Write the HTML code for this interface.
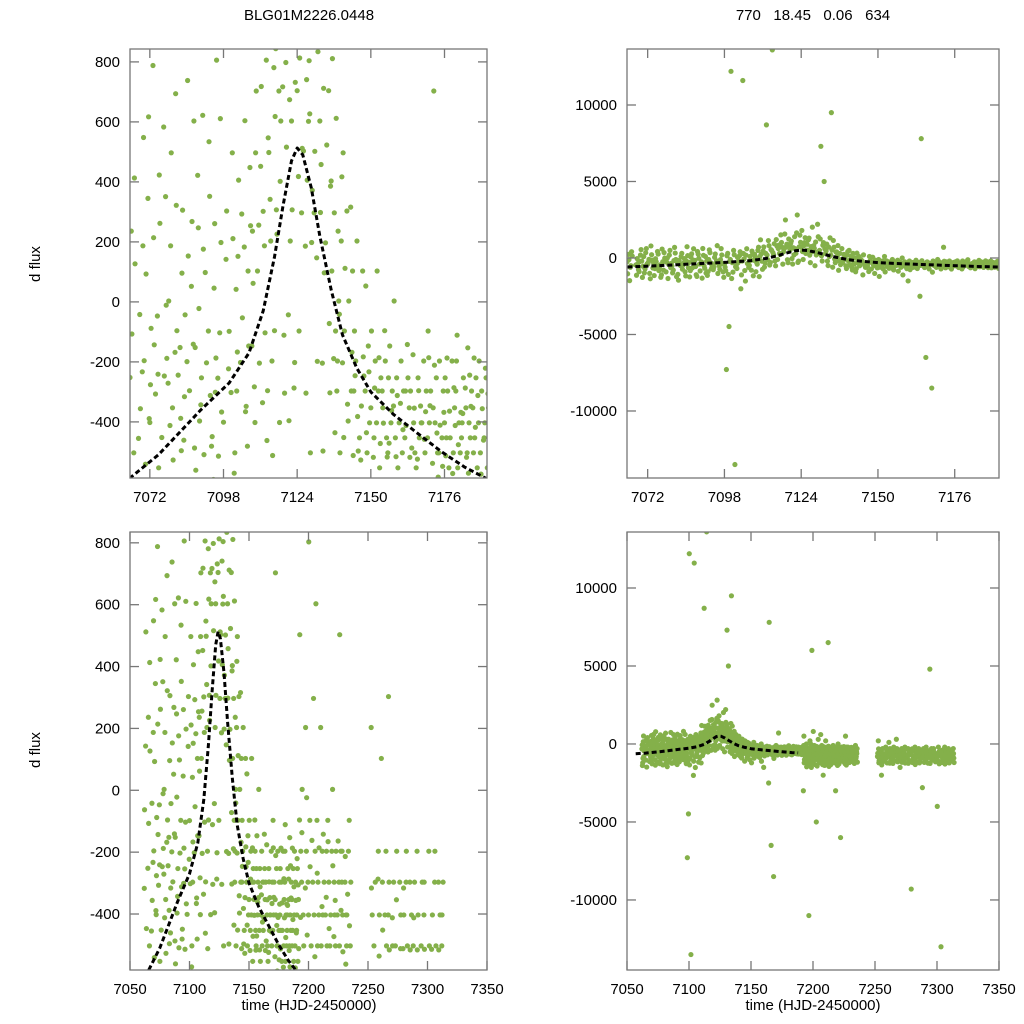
<!DOCTYPE html>
<html><head><meta charset="utf-8"><style>
html,body{margin:0;background:#fff;width:1024px;height:1024px;overflow:hidden}
svg{display:block;font-family:"Liberation Sans",sans-serif}
</style></head><body>
<svg id="chart" width="1024" height="1024"></svg>
<script>
const modelTimes=[7057,7065,7075,7083,7090,7100,7107,7112,7116,7119,7122,7124,7126,7129,7132,7136,7140,7145,7150,7158,7165,7175,7183,7188,7191];
const modelFlux=[-620,-587,-510,-430,-360,-270,-170,-30,150,320,470,513,490,380,220,40,-110,-220,-300,-375,-427,-500,-550,-575,-590];
const obsTimes=[7062,7065,7068,7070,7072,7074,7076,7078,7080,7082,7084,7086,7088,7090,7092,7094,7096,7098,7100,7102,7104,7106,7108,7110,7112,7114,7116,7118,7120,7122,7124,7126,7128,7130,7132,7134,7136,7138,7140,7142,7144,7146,7148,7150,7152,7154,7156,7158,7160,7162,7164,7166,7168,7170,7172,7174,7176,7178,7180,7182,7184,7186,7188,7190,7192,7194,7196,7198,7200,7202,7204,7206,7208,7210,7212,7214,7216,7218,7220,7222,7224,7226,7228,7230,7232,7234,7252,7255,7258,7261,7264,7267,7270,7273,7276,7279,7282,7285,7288,7291,7294,7297,7300,7303,7306,7309,7312];
const obsFlux=[
[-317,-812,143,-1213,-63,-447,512,-921,-1384],
[-252,413,-608,-107,-1032,127,-503,-1480,236],
[-455,187,-893,-356,-1128,548,-233,-761,-42],
[-196,617,-712,93,-1267,-389,345,-974,-541],
[-402,-143,788,-1006,-276,-658,214,-1355,-88],
[-307,262,-553,-47,-1148,-816,423,-241,-693],
[-598,351,-247,-1103,-452,-11,-789,583,-1260],
[-188,497,-412,3,-908,-633,187,-1339,-271],
[-353,-96,694,-793,-527,-1221,322,-168,-972],
[-244,306,-496,-152,-1067,-731,96,-388,-1452],
[-461,153,-199,-902,-316,-628,738,-1174,-43],
[-296,603,-652,52,-1236,-487,-141,268,-827],
[-152,-397,247,-1204,-561,-843,-22,422,-1092],
[-343,98,-509,622,-253,-987,-671,176,-1318],
[-203,-706,352,-97,-1140,-481,-312,534,-897],
[-449,806,-301,46,-766,-1012,-187,261,-592],
[-254,-903,198,-103,-514,-1261,-367,611,-738],
[-401,-4480,303,-7290,-603,-223,-1074,142,-832],
[-98,-13500,497,-302,12200,-571,211,-923,-1342],
[-503,-2012,152,-297,-688,-1105,406,-167,42],
[-202,604,-1507,-53,11600,-366,183,-822,293],
[-348,254,-797,103,-612,-1163,448,-147,-481],
[-147,703,-402,-896,236,-1216,497,-283,62],
[103,-597,452,-204,1187,-336,718,-741,256],
[302,-296,806,-103,8700,547,-462,1138,187],
[498,1204,-197,203,13600,781,-512,934,342],
[-96,703,1512,307,618,-402,1013,226,844],
[402,-304,897,2488,603,1241,-111,717,1568],
[798,203,-396,1107,516,1392,674,-43,957],
[603,1493,-202,2812,307,1026,732,-287,1641],
[704,297,1006,-97,1802,512,1328,813,418],
[897,406,-304,1303,503,2016,741,186,1187],
[602,2207,198,-503,804,1389,372,1046,627],
[297,1003,-198,7300,502,5000,834,147,1246],
[603,97,-497,906,298,1317,712,-204,458],
[197,-303,704,-603,9500,386,-72,1147,523],
[403,-97,297,-803,103,612,-436,-189,811],
[-297,203,-503,3,-197,417,-688,-41,236],
[-203,303,-603,-97,497,-341,-788,112,-452],
[-397,103,-297,-703,3,-512,-168,316,-903],
[-297,-497,203,-197,-97,-611,-382,-1103,-246],
[-453,-247,103,-347,-603,-714,-183,-882,-527],
[-297,-403,-147,-503,53,-651,-233,-1008,-436],
[-353,-197,-453,-603,-97,-714,-287,-518,-1207],
[-403,-253,-553,-297,103,-671,-472,-186,-912],
[-297,-453,-197,-653,-353,-517,-782,-96,-404],
[-503,-297,-403,-147,-253,-607,-362,-864,-471],
[-347,-553,-253,-453,3,-694,-312,-516,-1106],
[-403,-297,-503,-197,-1500,-614,-426,-761,-338],
[-453,-353,-253,-603,-297,-518,-692,-142,-412],
[-297,-503,-403,7800,-2500,-621,-354,-176,-487],
[-553,-347,-453,-253,-6500,-403,-711,-296,-524],
[-403,-297,-503,-197,-8500,-611,-366,-458,-923],
[-453,-603,-297,-403,-97,-538,-712,-346,-186],
[-353,-503,-253,-403,703,-584,-437,-642,-211],
[-503,-297,-453,-603,-197,-368,-548,-722,-411],
[-403,-553,-297,-453,-253,-364,-626,-187,-513],
[-453,-353,-503,-197,-603,-412,-286,-572,-716],
[-297,-503,-403,-553,-197,-368,-642,-476,-111],
[-453,-353,-603,-253,-403,-518,-287,-696,-372],
[-503,-297,-453,-403,-153,-612,-348,-244,-571],
[-353,-553,-253,-453,-503,-312,-634,-418,-187],
[-403,-603,-297,-503,-197,-461,-356,-574,-642],
[-453,-353,-553,-253,-403,-512,-306,-677,-221],
[-603,-197,-1003,503,-3000,-812,-411,-1207,-96],
[-803,-403,-1203,3,-297,-612,-956,-1463,-137],
[-503,203,-903,-11000,-603,-1142,-316,-718,-1380],
[-703,-297,6000,-1503,-197,-887,-1214,-468,-24],
[-403,-903,-97,-603,803,-1321,-247,-712,-1056],
[-1003,-297,-703,-5000,-503,-846,-1412,-162,-624],
[-603,-197,-1203,-403,297,-917,-538,-1086,-743],
[-803,-503,-97,-903,603,-1328,-268,-692,-1147],
[-297,-1103,-603,-403,-2000,-812,-1376,-186,-951],
[-703,-197,-903,-503,203,-1242,-376,-664,-1081],
[-403,-803,-297,-1203,6500,-611,-974,-1436,-142],
[-903,-503,-197,-703,-403,-1158,-822,-346,-1317],
[-603,-1003,-297,-803,-97,-1214,-447,-741,-166],
[-503,-197,-903,-403,-3000,-1376,-664,-812,-1082],
[-703,-297,-603,-1103,3,-927,-473,-1288,-244],
[-403,-803,-197,-503,-6000,-1112,-652,-941,-356],
[-903,-297,-603,-1003,-403,-1261,-718,-164,-842],
[-503,-703,-197,-803,503,-1052,-388,-1346,-612],
[-297,-1003,-603,-403,-197,-873,-1187,-522,-744],
[-803,-403,-703,-297,-903,-1128,-562,-214,-1036],
[-503,-197,-1003,-603,-403,-824,-1243,-336,-711],
[-703,-297,-503,-903,-97,-1162,-612,-814,-438],
[-803,-403,-1203,203,-603,-924,-1061,-316,-722],
[-503,-903,-297,-703,-2000,-1117,-612,-846,-1343],
[-1003,-403,-603,-197,-803,-1214,-536,-912,-287],
[-603,-1103,-297,-803,103,-946,-452,-1232,-714],
[-903,-503,-197,-703,-403,-1086,-614,-827,-1246],
[-403,-1003,-603,-297,303,-884,-1142,-516,-746],
[-703,-297,-903,-503,-1500,-1176,-614,-862,-412],
[-503,-803,-197,-1003,-603,-926,-1221,-354,-688],
[-903,-403,-603,-297,-803,-1067,-512,-1238,-742],
[-603,-1003,-403,-703,-9300,-864,-1186,-316,-512],
[-297,-703,-503,-903,-197,-1128,-612,-814,-1316],
[-803,-403,-1103,-603,-297,-946,-712,-1212,-516],
[-503,-903,-297,-703,-2800,-1184,-612,-836,-412],
[-1003,-603,-403,-803,-197,-1227,-714,-914,-516],
[-703,-297,-903,-503,4800,-1046,-612,-812,-1242],
[-403,-803,-603,-1003,-297,-1138,-716,-922,-514],
[-903,-503,-197,-703,-4000,-1266,-612,-1088,-824],
[-603,-1003,-403,-803,-13000,-946,-712,-1186,-514],
[-297,-703,-503,-903,-197,-1116,-612,-812,-1284],
[-803,-403,-603,-1103,-297,-962,-718,-1212,-516],
[-503,-903,-297,-703,-403,-1186,-612,-812,-1042]];
const topXTicks=[7072,7098,7124,7150,7176];
const botXTicks=[7050,7100,7150,7200,7250,7300,7350];
const leftYTicks=[-400,-200,0,200,400,600,800];
const rightYTicks=[-10000,-5000,0,5000,10000];

const NS="http://www.w3.org/2000/svg";
const svg=document.getElementById('chart');
function mk(tag,attrs,parent){const e=document.createElementNS(NS,tag);for(const k in attrs)e.setAttribute(k,attrs[k]);(parent||svg).appendChild(e);return e;}
const panels=[
 {name:'top-left',x0:130,x1:487,y0:49,y1:478,tmin:7065,tmax:7191,fmin:-587,fmax:843,xt:topXTicks,yt:leftYTicks,mEnd:7191},
 {name:'top-right',x0:627,x1:999,y0:49,y1:478,tmin:7065,tmax:7191,fmin:-14380,fmax:13660,xt:topXTicks,yt:rightYTicks,mEnd:7191},
 {name:'bottom-left',x0:130,x1:487,y0:532,y1:970,tmin:7050,tmax:7350,fmin:-581,fmax:835,xt:botXTicks,yt:leftYTicks,mEnd:7191},
 {name:'bottom-right',x0:627,x1:999,y0:532,y1:970,tmin:7050,tmax:7350,fmin:-14490,fmax:13590,xt:botXTicks,yt:rightYTicks,mEnd:7188}
];
panels.forEach((p,pi)=>{
 const sx=t=>p.x0+(t-p.tmin)/(p.tmax-p.tmin)*(p.x1-p.x0);
 const sy=f=>p.y1-(f-p.fmin)/(p.fmax-p.fmin)*(p.y1-p.y0);
 const g=mk('g',{});
 
 
 const cp=mk('clipPath',{id:'cp'+pi},g);
 mk('rect',{x:p.x0,y:p.y0,width:p.x1-p.x0,height:p.y1-p.y0},cp);
 const pts=mk('g',{'clip-path':'url(#cp'+pi+')',fill:'#84b04a'},g);
 
 
 obsTimes.forEach((t,i)=>{const n=obsFlux[i].length;obsFlux[i].forEach((f,j)=>{
   const tt=t+(j*7%n)*(2/n);
   if(tt<p.tmin-1||tt>p.tmax+1||f<p.fmin-50||f>p.fmax+50)return;
   const c=mk('circle',{cx:sx(tt),cy:sy(f),r:2.6},pts);
   
   
 });});
 let d='';modelTimes.forEach((t,i)=>{if(t<=p.mEnd&&t>=p.tmin-8)d+=(d?'L':'M')+sx(t).toFixed(1)+','+sy(modelFlux[i]).toFixed(1);});
 const ml=mk('path',{d:d,fill:'none',stroke:'#000','stroke-width':3,'stroke-dasharray':'5,3','stroke-linejoin':'round','clip-path':'url(#cp'+pi+')'},g);
 
 
 const fr=mk('rect',{x:p.x0,y:p.y0,width:p.x1-p.x0,height:p.y1-p.y0,fill:'none',stroke:'#777','stroke-width':1.3},g);
 
 
 p.xt.forEach(t=>{const x=sx(t);
  mk('line',{x1:x,x2:x,y1:p.y1,y2:p.y1-9,stroke:'#777','stroke-width':1.3},g);
  mk('line',{x1:x,x2:x,y1:p.y0,y2:p.y0+9,stroke:'#777','stroke-width':1.3},g);
  const tx=mk('text',{x:x,y:p.y1+24,'font-size':15,'text-anchor':'middle',fill:'#000'},g);tx.textContent=t;
  
  
 });
 p.yt.forEach(f=>{const y=sy(f);
  mk('line',{x1:p.x0,x2:p.x0+9,y1:y,y2:y,stroke:'#777','stroke-width':1.3},g);
  mk('line',{x1:p.x1,x2:p.x1-9,y1:y,y2:y,stroke:'#777','stroke-width':1.3},g);
  const tx=mk('text',{x:p.x0-10,y:y+5,'font-size':15,'text-anchor':'end',fill:'#000'},g);tx.textContent=f;
  
  
 });
});
function label(txt,x,y,name,rot){const t=mk('text',{x:x,y:y,'font-size':15,'text-anchor':'middle',fill:'#000'});t.style.whiteSpace='pre';if(rot)t.setAttribute('transform','rotate(-90 '+x+' '+y+')');t.textContent=txt;}
label('BLG01M2226.0448',309,20,'left-title');
label('770   18.45   0.06   634',813,20,'right-title');
label('d flux',40,264,'y-axis-title-top',true);
label('d flux',40,750,'y-axis-title-bottom',true);
label('time (HJD-2450000)',309,1010,'x-axis-title-left');
label('time (HJD-2450000)',813,1010,'x-axis-title-right');
</script>
</body></html>
